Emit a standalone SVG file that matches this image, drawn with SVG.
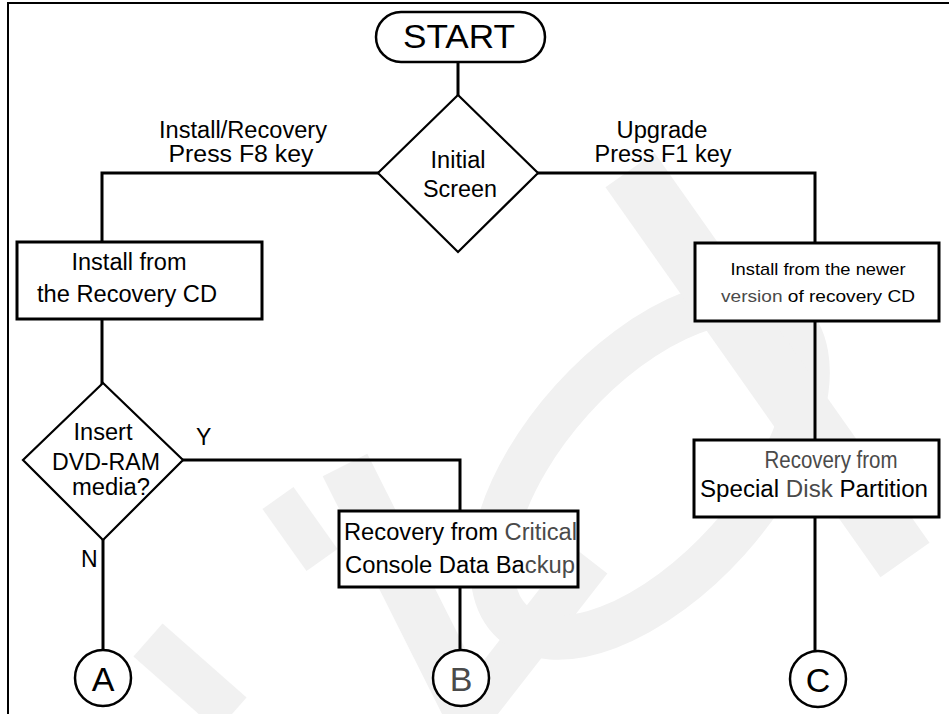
<svg xmlns="http://www.w3.org/2000/svg" width="949" height="714" viewBox="0 0 949 714">
  <style>
    text { font-family: "Liberation Sans", Arial, Helvetica, sans-serif; fill: #000; }
    .lbl { font-size: 23px; }
    .mid { text-anchor: middle; }
    .gray { fill: #4a4a4a; }
    .box { fill: #fff; stroke: #000; stroke-width: 3; }
    .dia { fill: #fff; stroke: #000; stroke-width: 2.2; }
    .term { fill: #fff; stroke: #000; stroke-width: 2.5; }
    .conn { fill: none; stroke: #000; stroke-width: 3; stroke-linecap: square; }
    .ring { fill: #fff; stroke: #000; stroke-width: 2.5; }
    .wm { fill: none; stroke: #f1f1f1; stroke-linecap: butt; }
  </style>

  <rect width="949" height="714" fill="#fff"/>

  <!-- faint background watermark -->
  <g id="watermark" class="wm">
    <path d="M278 498 L322 560" stroke-width="38"/>
    <path d="M148 640 L232 714" stroke-width="44"/>
    <path d="M345 465 L470 714" stroke-width="50"/>
    <path d="M470 714 L590 560" stroke-width="44"/>
    <ellipse cx="650" cy="470" rx="205" ry="105" transform="rotate(-48 650 470)" stroke-width="44"/>
    <path d="M630 170 L905 560" stroke-width="60"/>
  </g>

  <!-- page frame -->
  <path d="M8 714 V3 H949" fill="none" stroke="#000" stroke-width="2"/>

  <!-- connectors -->
  <g id="connectors" class="conn">
    <path d="M458 62 V95"/>
    <path d="M378 173 H102 V242"/>
    <path d="M538 173 H815 V243"/>
    <path d="M102 319 V383"/>
    <path d="M183 460 H460 V511"/>
    <path d="M103 540 V650"/>
    <path d="M460 587 V650"/>
    <path d="M815 321 V440"/>
    <path d="M815 517 V651"/>
  </g>

  <!-- edge labels -->
  <g id="labels">
    <text class="lbl mid" x="243" y="138" textLength="168" lengthAdjust="spacingAndGlyphs">Install/Recovery</text>
    <text class="lbl mid" x="241" y="162" textLength="145" lengthAdjust="spacingAndGlyphs">Press F8 key</text>
    <text class="lbl mid" x="662" y="138" textLength="91" lengthAdjust="spacingAndGlyphs">Upgrade</text>
    <text class="lbl mid" x="663" y="162" textLength="137" lengthAdjust="spacingAndGlyphs">Press F1 key</text>
    <text class="lbl" x="196" y="445">Y</text>
    <text class="lbl" x="81" y="567">N</text>
  </g>

  <g id="start">
    <rect class="term" x="376" y="12" width="169" height="50" rx="25" ry="25"/>
    <text class="mid" x="459" y="48" font-size="34" textLength="112" lengthAdjust="spacingAndGlyphs">START</text>
  </g>

  <g id="initial-screen">
    <path class="dia" d="M458 95 L538 173 L458 252 L378 173 Z"/>
    <text class="lbl mid" x="458" y="168" textLength="55" lengthAdjust="spacingAndGlyphs">Initial</text>
    <text class="lbl mid" x="460" y="197" textLength="74" lengthAdjust="spacingAndGlyphs">Screen</text>
  </g>

  <g id="install-recovery-cd">
    <rect class="box" x="17" y="242" width="245" height="77"/>
    <text class="lbl mid" x="129" y="270" textLength="115" lengthAdjust="spacingAndGlyphs">Install from</text>
    <text class="lbl mid" x="127" y="302" textLength="180" lengthAdjust="spacingAndGlyphs">the Recovery CD</text>
  </g>

  <g id="insert-dvd">
    <path class="dia" d="M103 383 L183 460 L103 540 L23 460 Z"/>
    <text class="lbl mid" x="103" y="440" textLength="59" lengthAdjust="spacingAndGlyphs">Insert</text>
    <text class="lbl mid" x="106" y="470" textLength="108" lengthAdjust="spacingAndGlyphs">DVD-RAM</text>
    <text class="lbl mid" x="111" y="495" textLength="78" lengthAdjust="spacingAndGlyphs">media?</text>
  </g>

  <g id="critical-backup">
    <rect class="box" x="339" y="511" width="239" height="76"/>
    <text class="lbl" x="344" y="540" textLength="233" lengthAdjust="spacingAndGlyphs">Recovery from <tspan class="gray">Critical</tspan></text>
    <text class="lbl" x="345" y="573" textLength="230" lengthAdjust="spacingAndGlyphs">Console Data Ba<tspan class="gray">ckup</tspan></text>
  </g>

  <g id="install-newer">
    <rect class="box" x="695" y="243" width="244" height="78"/>
    <text class="mid" x="818" y="275" font-size="17" textLength="175" lengthAdjust="spacingAndGlyphs">Install from the newer</text>
    <text class="mid" x="818" y="302" font-size="17" textLength="194" lengthAdjust="spacingAndGlyphs"><tspan class="gray">version</tspan> of recovery CD</text>
  </g>

  <g id="special-partition">
    <rect class="box" x="694" y="440" width="245" height="77"/>
    <text class="lbl mid gray" x="831" y="468" textLength="133" lengthAdjust="spacingAndGlyphs">Recovery from</text>
    <text class="lbl mid" x="814" y="497" textLength="228" lengthAdjust="spacingAndGlyphs">Special <tspan class="gray">Disk</tspan> Partition</text>
  </g>

  <g id="connector-a">
    <circle class="ring" cx="103" cy="678" r="28"/>
    <text class="mid" x="103" y="691" font-size="34">A</text>
  </g>

  <g id="connector-b">
    <circle class="ring" cx="461" cy="678" r="28" stroke="#333"/>
    <text class="mid gray" x="461" y="691" font-size="34">B</text>
  </g>

  <g id="connector-c">
    <circle class="ring" cx="818" cy="679" r="28"/>
    <text class="mid" x="818" y="692" font-size="34">C</text>
  </g>
</svg>
